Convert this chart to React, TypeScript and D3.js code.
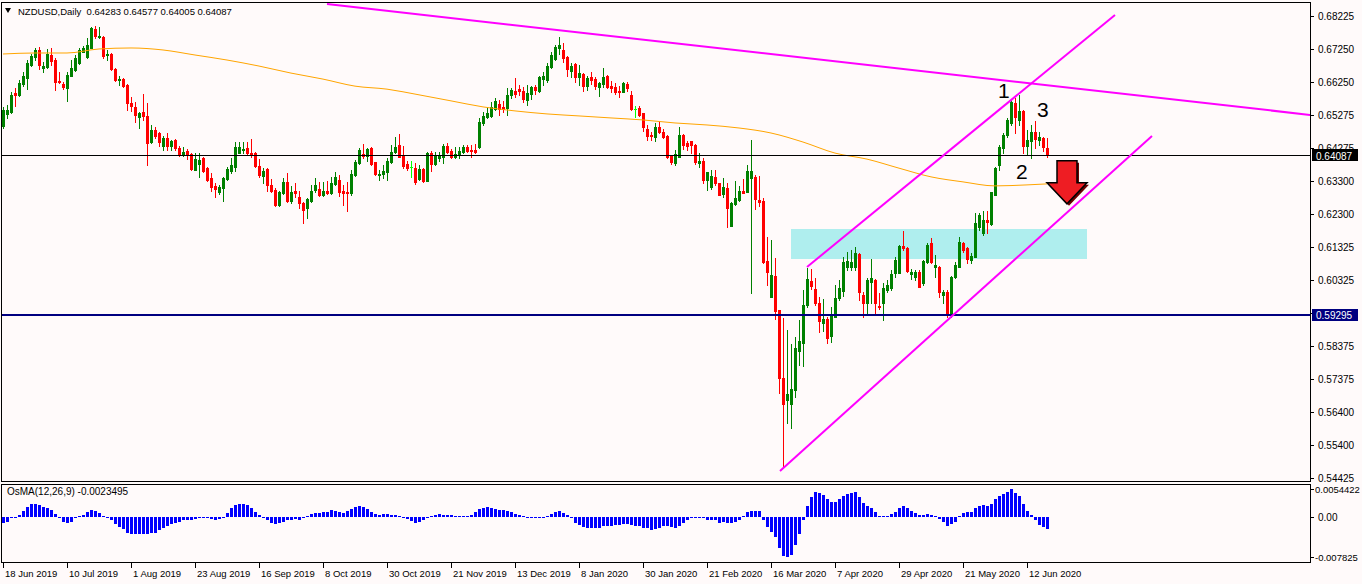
import React from 'react';
import * as d3 from 'd3';

// NZDUSD daily, 18 Jun 2019 .. 19 Jun 2020 (262 bars)
const opens = [
  0.6494, 0.6530, 0.6536, 0.6593, 0.6587, 0.6619, 0.6637, 0.6676, 0.6700, 0.6721,
  0.6667, 0.6670, 0.6706, 0.6691, 0.6628, 0.6619, 0.6607, 0.6643, 0.6661, 0.6682,
  0.6715, 0.6700, 0.6727, 0.6784, 0.6760, 0.6760, 0.6706, 0.6709, 0.6664, 0.6631,
  0.6634, 0.6616, 0.6563, 0.6551, 0.6521, 0.6536, 0.6524, 0.6446, 0.6482, 0.6473,
  0.6434, 0.6458, 0.6434, 0.6452, 0.6428, 0.6410, 0.6419, 0.6410, 0.6363, 0.6380,
  0.6398, 0.6369, 0.6339, 0.6315, 0.6297, 0.6309, 0.6336, 0.6360, 0.6371, 0.6413,
  0.6422, 0.6428, 0.6413, 0.6413, 0.6374, 0.6345, 0.6366, 0.6318, 0.6303, 0.6258,
  0.6294, 0.6327, 0.6270, 0.6300, 0.6282, 0.6264, 0.6249, 0.6270, 0.6303, 0.6306,
  0.6288, 0.6300, 0.6294, 0.6321, 0.6333, 0.6300, 0.6297, 0.6294, 0.6348, 0.6383,
  0.6410, 0.6404, 0.6428, 0.6386, 0.6348, 0.6351, 0.6357, 0.6386, 0.6416, 0.6437,
  0.6404, 0.6380, 0.6371, 0.6368, 0.6336, 0.6366, 0.6330, 0.6413, 0.6380, 0.6398,
  0.6401, 0.6434, 0.6419, 0.6401, 0.6410, 0.6416, 0.6431, 0.6422, 0.6422, 0.6431,
  0.6503, 0.6521, 0.6524, 0.6545, 0.6560, 0.6551, 0.6548, 0.6587, 0.6598, 0.6604,
  0.6598, 0.6572, 0.6590, 0.6610, 0.6598, 0.6634, 0.6631, 0.6670, 0.6694, 0.6727,
  0.6721, 0.6700, 0.6658, 0.6679, 0.6640, 0.6649, 0.6613, 0.6640, 0.6634, 0.6610,
  0.6619, 0.6643, 0.6613, 0.6610, 0.6598, 0.6595, 0.6619, 0.6587, 0.6545, 0.6548,
  0.6533, 0.6485, 0.6467, 0.6461, 0.6491, 0.6476, 0.6464, 0.6404, 0.6383, 0.6401,
  0.6467, 0.6443, 0.6449, 0.6437, 0.6383, 0.6389, 0.6333, 0.6312, 0.6342, 0.6324,
  0.6291, 0.6309, 0.6195, 0.6261, 0.6273, 0.6300, 0.6297, 0.6339, 0.6342, 0.6273,
  0.6270, 0.6091, 0.5983, 0.6046, 0.5944, 0.5741, 0.5676, 0.5664, 0.5705, 0.5823,
  0.5846, 0.5959, 0.6031, 0.6007, 0.5965, 0.5906, 0.5918, 0.5867, 0.5923, 0.5980,
  0.6001, 0.6073, 0.6073, 0.6073, 0.6112, 0.5989, 0.5965, 0.6028, 0.6034, 0.5956,
  0.5965, 0.6004, 0.6010, 0.6055, 0.6055, 0.6135, 0.6129, 0.6052, 0.6043, 0.6058,
  0.6025, 0.6088, 0.6144, 0.6073, 0.6073, 0.5989, 0.5998, 0.5935, 0.6043, 0.6073,
  0.6144, 0.6129, 0.6094, 0.6103, 0.6192, 0.6174, 0.6213, 0.6201, 0.6288, 0.6377,
  0.6428, 0.6467, 0.6503, 0.6563, 0.6512, 0.6539, 0.6434, 0.6449, 0.6476, 0.6452,
  0.6458, 0.64283,
];

const highs = [
  0.6551, 0.6557, 0.6596, 0.6607, 0.6631, 0.6655, 0.6691, 0.6709, 0.6727, 0.6730,
  0.6685, 0.6724, 0.6727, 0.6697, 0.6655, 0.6625, 0.6655, 0.6691, 0.6706, 0.6727,
  0.6733, 0.6757, 0.6790, 0.6793, 0.6790, 0.6763, 0.6721, 0.6712, 0.6667, 0.6643,
  0.6637, 0.6619, 0.6581, 0.6566, 0.6536, 0.6590, 0.6563, 0.6497, 0.6491, 0.6476,
  0.6464, 0.6473, 0.6452, 0.6455, 0.6434, 0.6431, 0.6425, 0.6413, 0.6413, 0.6413,
  0.6401, 0.6372, 0.6354, 0.6324, 0.6318, 0.6342, 0.6372, 0.6398, 0.6446, 0.6446,
  0.6446, 0.6446, 0.6455, 0.6416, 0.6395, 0.6369, 0.6369, 0.6336, 0.6309, 0.6300,
  0.6339, 0.6354, 0.6315, 0.6324, 0.6300, 0.6267, 0.6279, 0.6318, 0.6339, 0.6327,
  0.6327, 0.6330, 0.6342, 0.6357, 0.6348, 0.6318, 0.6327, 0.6363, 0.6392, 0.6428,
  0.6440, 0.6428, 0.6431, 0.6386, 0.6363, 0.6377, 0.6398, 0.6437, 0.6461, 0.6470,
  0.6434, 0.6389, 0.6389, 0.6383, 0.6377, 0.6369, 0.6416, 0.6419, 0.6416, 0.6416,
  0.6440, 0.6443, 0.6425, 0.6431, 0.6431, 0.6437, 0.6437, 0.6437, 0.6440, 0.6518,
  0.6536, 0.6551, 0.6566, 0.6578, 0.6572, 0.6569, 0.6607, 0.6607, 0.6637, 0.6616,
  0.6610, 0.6616, 0.6613, 0.6616, 0.6643, 0.6655, 0.6682, 0.6715, 0.6736, 0.6760,
  0.6742, 0.6703, 0.6682, 0.6682, 0.6676, 0.6652, 0.6643, 0.6655, 0.6640, 0.6625,
  0.6667, 0.6646, 0.6628, 0.6622, 0.6613, 0.6625, 0.6625, 0.6598, 0.6554, 0.6554,
  0.6533, 0.6497, 0.6476, 0.6503, 0.6506, 0.6485, 0.6467, 0.6407, 0.6422, 0.6491,
  0.6470, 0.6449, 0.6449, 0.6440, 0.6413, 0.6398, 0.6357, 0.6363, 0.6363, 0.6324,
  0.6339, 0.6324, 0.6267, 0.6330, 0.6315, 0.6336, 0.6377, 0.6452, 0.6348, 0.6345,
  0.6279, 0.6162, 0.6153, 0.6100, 0.5944, 0.5920, 0.5885, 0.5844, 0.5864, 0.5914,
  0.6003, 0.6070, 0.6067, 0.6040, 0.5983, 0.5977, 0.5924, 0.5953, 0.6019, 0.6034,
  0.6103, 0.6118, 0.6124, 0.6132, 0.6115, 0.5998, 0.6040, 0.6097, 0.6037, 0.5995,
  0.6025, 0.6034, 0.6064, 0.6103, 0.6138, 0.6180, 0.6132, 0.6067, 0.6064, 0.6064,
  0.6094, 0.6144, 0.6159, 0.6109, 0.6076, 0.6004, 0.6004, 0.6046, 0.6088, 0.6162,
  0.6147, 0.6132, 0.6115, 0.6234, 0.6234, 0.6240, 0.6240, 0.6297, 0.6372, 0.6437,
  0.6473, 0.6518, 0.6572, 0.6578, 0.6587, 0.6542, 0.6482, 0.6497, 0.6509, 0.6476,
  0.6461, 0.64577,
];

const lows = [
  0.6488, 0.6518, 0.6533, 0.6554, 0.6584, 0.6613, 0.6604, 0.6673, 0.6691, 0.6664,
  0.6655, 0.6667, 0.6676, 0.6601, 0.6622, 0.6604, 0.6569, 0.6643, 0.6658, 0.6679,
  0.6715, 0.6697, 0.6727, 0.6757, 0.6757, 0.6697, 0.6691, 0.6661, 0.6628, 0.6616,
  0.6610, 0.6542, 0.6539, 0.6506, 0.6488, 0.6512, 0.6377, 0.6443, 0.6458, 0.6434,
  0.6422, 0.6422, 0.6422, 0.6422, 0.6404, 0.6404, 0.6395, 0.6363, 0.6363, 0.6342,
  0.6357, 0.6330, 0.6300, 0.6282, 0.6291, 0.6270, 0.6333, 0.6354, 0.6360, 0.6413,
  0.6413, 0.6410, 0.6401, 0.6371, 0.6342, 0.6324, 0.6300, 0.6297, 0.6255, 0.6255,
  0.6291, 0.6267, 0.6264, 0.6282, 0.6249, 0.6204, 0.6219, 0.6267, 0.6297, 0.6285,
  0.6285, 0.6291, 0.6291, 0.6318, 0.6285, 0.6258, 0.6240, 0.6288, 0.6345, 0.6380,
  0.6398, 0.6389, 0.6377, 0.6348, 0.6333, 0.6339, 0.6333, 0.6383, 0.6413, 0.6401,
  0.6368, 0.6363, 0.6342, 0.6321, 0.6333, 0.6327, 0.6330, 0.6360, 0.6377, 0.6389,
  0.6383, 0.6413, 0.6398, 0.6398, 0.6398, 0.6413, 0.6416, 0.6401, 0.6413, 0.6428,
  0.6497, 0.6518, 0.6521, 0.6542, 0.6527, 0.6536, 0.6527, 0.6578, 0.6581, 0.6587,
  0.6566, 0.6557, 0.6575, 0.6590, 0.6595, 0.6616, 0.6625, 0.6667, 0.6691, 0.6709,
  0.6685, 0.6643, 0.6640, 0.6625, 0.6616, 0.6598, 0.6601, 0.6619, 0.6604, 0.6584,
  0.6610, 0.6607, 0.6595, 0.6590, 0.6581, 0.6595, 0.6598, 0.6542, 0.6521, 0.6524,
  0.6479, 0.6452, 0.6452, 0.6449, 0.6473, 0.6458, 0.6398, 0.6380, 0.6377, 0.6401,
  0.6425, 0.6422, 0.6413, 0.6380, 0.6371, 0.6324, 0.6303, 0.6306, 0.6318, 0.6288,
  0.6282, 0.6192, 0.6195, 0.6258, 0.6270, 0.6294, 0.6297, 0.5995, 0.6246, 0.6255,
  0.6085, 0.6019, 0.5983, 0.5918, 0.5696, 0.5475, 0.5607, 0.5592, 0.5685, 0.5780,
  0.5777, 0.5953, 0.6008, 0.5959, 0.5879, 0.5882, 0.5846, 0.5849, 0.5923, 0.5974,
  0.5986, 0.6064, 0.6064, 0.6064, 0.5974, 0.5923, 0.5935, 0.5965, 0.5935, 0.5947,
  0.5914, 0.5998, 0.6004, 0.6043, 0.6055, 0.6124, 0.6058, 0.6037, 0.6034, 0.6013,
  0.6019, 0.6085, 0.6085, 0.6043, 0.5983, 0.5965, 0.5923, 0.5923, 0.6040, 0.6073,
  0.6118, 0.6085, 0.6085, 0.6103, 0.6183, 0.6168, 0.6174, 0.6198, 0.6288, 0.6363,
  0.6413, 0.6461, 0.6497, 0.6473, 0.6497, 0.6413, 0.6407, 0.6398, 0.6428, 0.6437,
  0.6419, 0.64005,
];

const closes = [
  0.6542, 0.6542, 0.6587, 0.6587, 0.6622, 0.6643, 0.6682, 0.6703, 0.6721, 0.6676,
  0.6673, 0.6709, 0.6688, 0.6625, 0.6625, 0.6610, 0.6646, 0.6667, 0.6697, 0.6721,
  0.6727, 0.6736, 0.6787, 0.6763, 0.6763, 0.6703, 0.6709, 0.6664, 0.6631, 0.6634,
  0.6613, 0.6563, 0.6554, 0.6527, 0.6533, 0.6524, 0.6443, 0.6482, 0.6464, 0.6446,
  0.6458, 0.6434, 0.6449, 0.6428, 0.6407, 0.6416, 0.6407, 0.6366, 0.6395, 0.6392,
  0.6360, 0.6333, 0.6312, 0.6306, 0.6312, 0.6339, 0.6366, 0.6377, 0.6431, 0.6431,
  0.6425, 0.6413, 0.6410, 0.6374, 0.6348, 0.6360, 0.6318, 0.6300, 0.6258, 0.6297,
  0.6327, 0.6270, 0.6297, 0.6294, 0.6264, 0.6243, 0.6276, 0.6300, 0.6318, 0.6288,
  0.6300, 0.6294, 0.6324, 0.6342, 0.6297, 0.6294, 0.6294, 0.6351, 0.6386, 0.6422,
  0.6404, 0.6425, 0.6380, 0.6351, 0.6351, 0.6360, 0.6389, 0.6416, 0.6431, 0.6401,
  0.6374, 0.6368, 0.6371, 0.6327, 0.6366, 0.6330, 0.6413, 0.6380, 0.6404, 0.6404,
  0.6434, 0.6416, 0.6401, 0.6410, 0.6419, 0.6431, 0.6419, 0.6419, 0.6416, 0.6506,
  0.6524, 0.6533, 0.6551, 0.6569, 0.6545, 0.6545, 0.6587, 0.6601, 0.6590, 0.6598,
  0.6575, 0.6593, 0.6610, 0.6601, 0.6640, 0.6643, 0.6673, 0.6706, 0.6730, 0.6736,
  0.6697, 0.6664, 0.6673, 0.6640, 0.6652, 0.6613, 0.6637, 0.6631, 0.6613, 0.6622,
  0.6640, 0.6610, 0.6607, 0.6595, 0.6595, 0.6622, 0.6607, 0.6545, 0.6545, 0.6527,
  0.6491, 0.6464, 0.6464, 0.6491, 0.6476, 0.6461, 0.6401, 0.6386, 0.6410, 0.6467,
  0.6437, 0.6434, 0.6437, 0.6386, 0.6389, 0.6333, 0.6357, 0.6345, 0.6324, 0.6288,
  0.6312, 0.6249, 0.6264, 0.6279, 0.6300, 0.6294, 0.6360, 0.6360, 0.6276, 0.6267,
  0.6088, 0.6058, 0.6049, 0.5941, 0.5741, 0.5664, 0.5693, 0.5708, 0.5831, 0.5852,
  0.5960, 0.6037, 0.6016, 0.5965, 0.5912, 0.5918, 0.5861, 0.5930, 0.5980, 0.6010,
  0.6088, 0.6091, 0.6088, 0.6115, 0.5998, 0.5965, 0.6034, 0.6040, 0.5965, 0.5953,
  0.6010, 0.6019, 0.6052, 0.6094, 0.6135, 0.6129, 0.6061, 0.6058, 0.6058, 0.6013,
  0.6091, 0.6138, 0.6088, 0.6079, 0.5998, 0.5998, 0.5935, 0.6043, 0.6079, 0.6147,
  0.6124, 0.6097, 0.6106, 0.6204, 0.6228, 0.6213, 0.6207, 0.6297, 0.6369, 0.6431,
  0.6467, 0.6512, 0.6566, 0.6521, 0.6539, 0.6434, 0.6452, 0.6476, 0.6455, 0.6461,
  0.6431, 0.64087,
];

// orange moving average, read every 8 bars
const maBars = [0, 8, 16, 24, 32, 40, 48, 56, 64, 72, 80, 88, 96, 104, 112, 120, 128, 136,
  144, 152, 160, 168, 176, 184, 192, 200, 208, 216, 224, 232, 240, 248, 256, 261];
const maValues = [0.6709, 0.6712, 0.6712, 0.6724, 0.6727, 0.6721, 0.6706, 0.6691, 0.6673,
  0.6652, 0.6634, 0.6613, 0.6604, 0.6587, 0.6569, 0.6551, 0.6539, 0.6530, 0.6524, 0.6518,
  0.6512, 0.6503, 0.6497, 0.6488, 0.6473, 0.6446, 0.6413, 0.6395, 0.6368, 0.6342, 0.6327,
  0.6315, 0.6318, 0.6321];

// OsMA(12,26,9) histogram, one value per bar
const osma = [
  -0.0011, -0.0009, -0.0003, 0, 0.0003, 0.0011, 0.0020, 0.0026, 0.0026, 0.0023,
  0.0020, 0.0018, 0.0013, 0.0005, -0.0003, -0.0009, -0.0011, -0.0009, -0.0003, 0.0002,
  0.0004, 0.0009, 0.0013, 0.0012, 0.0007, 0.0002, -0.0001, -0.0006, -0.0013, -0.0020,
  -0.0024, -0.0032, -0.0034, -0.0034, -0.0034, -0.0034, -0.0034, -0.0032, -0.0031, -0.0026,
  -0.0021, -0.0017, -0.0013, -0.0011, -0.0009, -0.0007, -0.0006, -0.0006, -0.0005, -0.0003,
  -0.0003, -0.0003, -0.0004, -0.0006, -0.0005, -0.0001, 0.0007, 0.0018, 0.0024, 0.0026,
  0.0026, 0.0023, 0.0018, 0.0010, 0.0003, -0.0001, -0.0006, -0.0011, -0.0013, -0.0011,
  -0.0009, -0.0007, -0.0006, -0.0005, -0.0006, -0.0003, 0.0001, 0.0005, 0.0007, 0.0008,
  0.0009, 0.0010, 0.0013, 0.0012, 0.0009, 0.0008, 0.0011, 0.0015, 0.0020, 0.0021,
  0.0020, 0.0015, 0.0009, 0.0005, 0.0003, 0.0005, 0.0005, 0.0004, 0.0003, 0.0001,
  -0.0002, -0.0005, -0.0008, -0.0012, -0.0009, -0.0006, -0.0003, 0.0001, 0.0003, 0.0005,
  0.0004, 0.0003, 0.0003, 0.0002, 0.0002, 0.0002, 0.0001, 0.0003, 0.0009, 0.0015,
  0.0018, 0.0020, 0.0018, 0.0015, 0.0013, 0.0013, 0.0012, 0.0009, 0.0005, 0.0003,
  0.0001, -0.0001, -0.0001, -0.0003, -0.0002, -0.0001, 0.0002, 0.0006, 0.0010, 0.0012,
  0.0008, 0.0003, -0.0003, -0.0011, -0.0015, -0.0020, -0.0021, -0.0021, -0.0021, -0.0021,
  -0.0018, -0.0018, -0.0018, -0.0016, -0.0016, -0.0013, -0.0013, -0.0015, -0.0018, -0.0018,
  -0.0021, -0.0021, -0.0025, -0.0024, -0.0021, -0.0018, -0.0018, -0.0020, -0.0021, -0.0018,
  -0.0011, -0.0007, -0.0003, -0.0001, -0.0001, -0.0001, -0.0007, -0.0007, -0.0007, -0.0012,
  -0.0009, -0.0012, -0.0012, -0.0009, -0.0006, 0.0001, 0.0009, 0.0012, 0.0011, 0.0011,
  -0.0007, -0.0020, -0.0029, -0.0039, -0.0061, -0.0076, -0.007825, -0.0074, -0.0054, -0.0034,
  -0.0007, 0.0021, 0.0039, 0.0048, 0.0046, 0.0043, 0.0034, 0.0030, 0.0030, 0.0034,
  0.0041, 0.0045, 0.0047, 0.0048, 0.0039, 0.0027, 0.0021, 0.0018, 0.0009, 0.0002,
  0.0002, 0.0002, 0.0006, 0.0010, 0.0018, 0.0021, 0.0018, 0.0012, 0.0007, 0.0003,
  0.0003, 0.0006, 0.0004, 0.0002, -0.0004, -0.0010, -0.0018, -0.0013, -0.0009, 0.0001,
  0.0007, 0.0009, 0.0010, 0.0018, 0.0021, 0.0023, 0.0021, 0.0025, 0.0034, 0.0041,
  0.0045, 0.0048, 0.0054422, 0.0047, 0.0041, 0.0025, 0.0012, 0.0003, -0.0007, -0.0015,
  -0.0020, -0.0023495,
];

const priceTicks = [0.68225, 0.6725, 0.6625, 0.65275, 0.64275, 0.633, 0.623, 0.61325,
  0.60325, 0.5935, 0.58375, 0.57375, 0.564, 0.554, 0.54425];
const osmaTicks = [0.0054422, 0, -0.007825];
const osmaTickLabels = ['0.0054422', '0.00', '-0.007825'];

const dateLabels = ['18 Jun 2019', '10 Jul 2019', '1 Aug 2019', '23 Aug 2019', '16 Sep 2019',
  '8 Oct 2019', '30 Oct 2019', '21 Nov 2019', '13 Dec 2019', '8 Jan 2020', '30 Jan 2020',
  '21 Feb 2020', '16 Mar 2020', '7 Apr 2020', '29 Apr 2020', '21 May 2020', '12 Jun 2020'];
const dateLabelBars = [0, 16, 32, 48, 64, 80, 96, 112, 128, 144, 160, 176, 192, 208, 224, 240, 256];

// drawn objects (bar index, price)
const resistanceBars = [81, 327];
const resistancePrices = [0.68583, 0.65268];
const upperChannelBars = [201, 278];
const upperChannelPrices = [0.60728, 0.68255];
const lowerChannelBars = [194.25, 287.25];
const lowerChannelPrices = [0.54634, 0.64641];
const zoneBars = [197, 271];
const zonePrices = [0.61862, 0.60967];
const bidPrice = 0.64087;
const supportPrice = 0.59295;
const waveLabels = ['1', '2', '3'];
const waveBars = [248.75, 253.25, 258.5];
const wavePrices = [0.6578, 0.6336, 0.6521];
const arrowBar = 266;
const arrowPrice = 0.6390;

const FONT = "'Liberation Sans', Arial, sans-serif";

const App: React.FC = () => {
  const W = 1362;
  const H = 584;
  const right = 1310;

  const x = d3.scaleLinear().domain([0, 261]).range([3, 1047]);
  const y = d3.scaleLinear().domain([0.54425, 0.68225]).range([478, 16]);
  const yo = d3.scaleLinear().domain([-0.007825, 0.0054422]).range([557, 489]);

  const px = (i: number) => Math.round(x(i));
  const py = (p: number) => Math.round(y(p));

  const maLine = d3.line<number>()
    .x((_, k) => x(maBars[k]))
    .y(d => y(d))
    .curve(d3.curveMonotoneX);

  const zero = Math.round(yo(0));

  const seg = (bars: number[], prices: number[]) => ({
    x1: x(bars[0]), y1: y(prices[0]), x2: x(bars[1]), y2: y(prices[1]),
  });

  const ax = x(arrowBar);
  const ay = y(arrowPrice);
  const arrowPts = [[-10, 0], [10, 0], [10, 22], [20, 22], [0, 43], [-20, 22], [-10, 22]];
  const arrowPath = (dx: number, dy: number) =>
    arrowPts.map(([a, b]) => `${ax + a + dx},${ay + b + dy}`).join(' ');

  const bidY = Math.round(y(bidPrice)) + 0.5;
  const supY = Math.round(y(supportPrice));

  return (
    <svg width={W} height={H} style={{ position: 'absolute', left: 0, top: 0, background: '#fffafa' }}
      fontFamily={FONT}>
      <defs>
        <clipPath id="main-clip"><rect x={2} y={3} width={right - 2} height={478} /></clipPath>
        <clipPath id="osma-clip"><rect x={2} y={485} width={right - 2} height={77} /></clipPath>
      </defs>

      <g clipPath="url(#main-clip)">
        {/* support zone */}
        <rect x={x(zoneBars[0])} y={y(zonePrices[0])} width={x(zoneBars[1]) - x(zoneBars[0])}
          height={y(zonePrices[1]) - y(zonePrices[0])} fill="#afeeee" />

        {/* candles */}
        <g shapeRendering="crispEdges">
          {opens.map((o, i) => {
            const c = closes[i];
            const col = c > o ? '#008000' : c < o ? '#ff0000' : '#00ff00';
            const top = py(Math.max(o, c));
            const bot = py(Math.min(o, c));
            const hi = py(highs[i]);
            const lo = py(lows[i]);
            return (
              <g key={i} fill={col}>
                <rect x={px(i)} y={hi} width={1} height={Math.max(1, lo - hi + 1)} />
                <rect x={px(i) - 1} y={top} width={3} height={Math.max(1, bot - top + 1)} />
              </g>
            );
          })}
        </g>

        {/* moving average */}
        <path d={maLine(maValues) || ''} fill="none" stroke="#ffa500" strokeWidth={1} />

        {/* horizontal lines */}
        <line x1={0} x2={right} y1={bidY} y2={bidY} stroke="#000" strokeWidth={1} />
        <line x1={0} x2={right} y1={supY} y2={supY} stroke="#000080" strokeWidth={2} />

        {/* trend lines */}
        <g stroke="#ff00ff" strokeWidth={2}>
          <line {...seg(resistanceBars, resistancePrices)} />
          <line {...seg(upperChannelBars, upperChannelPrices)} />
          <line {...seg(lowerChannelBars, lowerChannelPrices)} />
        </g>

        {/* wave labels */}
        {waveLabels.map((t, k) => (
          <text key={t} x={x(waveBars[k])} y={y(wavePrices[k])} fontSize={21} fill="#000">{t}</text>
        ))}

        {/* arrow */}
        <polygon points={arrowPath(2, 2)} fill="#6b0000" />
        <polygon points={arrowPath(0, 0)} fill="#ee1d23" stroke="#000" strokeWidth={1.5}
          strokeLinejoin="miter" />
      </g>

      {/* header */}
      <path d="M5,8 L11,8 L8,13 Z" fill="#000" />
      <text x={18} y={15} fontSize={9.5} fill="#000" style={{ whiteSpace: 'pre' }}>
        {`NZDUSD,Daily  ${opens[261].toFixed(5)} ${highs[261].toFixed(5)} ${lows[261].toFixed(5)} ${closes[261].toFixed(5)}`}
      </text>

      {/* OsMA */}
      <g clipPath="url(#osma-clip)" shapeRendering="crispEdges" fill="#0000ff">
        {osma.map((v, i) => {
          const yy = Math.round(yo(v));
          const top = Math.min(yy, zero);
          const h = Math.max(1, Math.abs(yy - zero));
          return <rect key={i} x={px(i) - 1} y={top} width={3} height={h} />;
        })}
      </g>
      <text x={7} y={495} fontSize={10} fill="#000">{`OsMA(12,26,9) ${osma[261].toFixed(7)}`}</text>

      {/* frames */}
      <g fill="none" stroke="#000" strokeWidth={1} shapeRendering="crispEdges">
        <rect x={1.5} y={2.5} width={right - 1} height={479} />
        <rect x={1.5} y={484.5} width={right - 1} height={78} />
      </g>

      {/* price axis */}
      <g fontSize={10} fill="#000" shapeRendering="crispEdges">
        {priceTicks.map(t => (
          <g key={t}>
            <line x1={right} x2={right + 4} y1={py(t) + 0.5} y2={py(t) + 0.5} stroke="#000" />
            <text x={right + 8} y={py(t) + 4}>{t.toFixed(5)}</text>
          </g>
        ))}
        {osmaTicks.map((t, k) => (
          <g key={t}>
            <line x1={right} x2={right + 4} y1={Math.round(yo(t)) + 0.5} y2={Math.round(yo(t)) + 0.5} stroke="#000" />
            <text x={right + (k === 1 ? 8 : 5)} y={Math.round(yo(t)) + 4}
              fontSize={k === 1 ? 10 : 9.5}>{osmaTickLabels[k]}</text>
          </g>
        ))}
        <rect x={right + 2} y={bidY - 6.5} width={46} height={12} fill="#000" />
        <text x={right + 6} y={bidY + 4} fill="#fff">{bidPrice.toFixed(5)}</text>
        <rect x={right + 2} y={supY - 6} width={46} height={12} fill="#000080" />
        <text x={right + 6} y={supY + 4} fill="#fff">{supportPrice.toFixed(5)}</text>
      </g>

      {/* time axis */}
      <g fontSize={9.5} fill="#000" shapeRendering="crispEdges">
        {dateLabels.map((d, k) => (
          <g key={d}>
            <line x1={px(dateLabelBars[k]) + 0.5} x2={px(dateLabelBars[k]) + 0.5} y1={563} y2={568} stroke="#000" />
            <text x={px(dateLabelBars[k]) + 2} y={577}>{d}</text>
          </g>
        ))}
      </g>
    </svg>
  );
};

export default App;
